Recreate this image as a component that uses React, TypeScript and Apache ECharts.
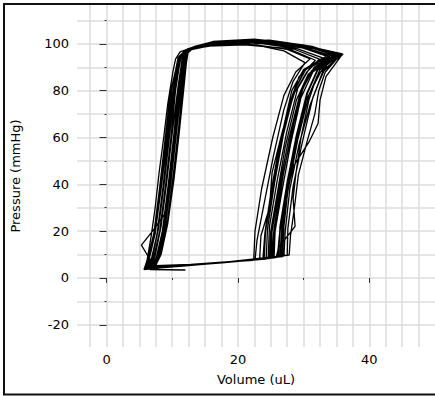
import React, { useEffect, useRef } from "react";
import * as echarts from "echarts";

// Pressure-volume loops: [volume (uL), pressure (mmHg)]
const loop1 = [[24.0,8.2],[24.2,20],[25.3,40],[26.6,60],[28.2,80],[30.0,89],[33.5,94.8],[29.5,98.6],[22.0,101.0],[16.0,100.3],[12.6,98.1],[11.6,95.2],[10.9,80],[10.2,60],[9.4,40],[8.5,20],[7.6,9],[6.9,4.4],[12.0,5.4],[18.0,6.6]];
const loop2 = [[25.1,8.5],[25.5,21],[26.4,38],[27.9,58],[29.4,78],[31.2,88.5],[35.2,95.2],[30.5,98.8],[23.0,101.8],[16.5,100.6],[12.9,98.4],[11.8,95.8],[11.2,82],[10.5,62],[9.7,42],[8.8,22],[7.9,10],[7.1,4.8],[12.5,5.6],[18.5,6.8]];
const loop3 = [[26.4,9.0],[26.6,19],[27.2,33],[28.6,55],[30.4,76],[32.6,88],[36.0,95.6],[31.2,98.4],[24.0,100.2],[17.0,99.6],[13.2,98.0],[12.0,96.0],[11.3,84],[10.7,66],[9.9,45],[9.0,25],[8.0,11],[7.2,5.0],[13.0,5.8],[19.0,7.0]];
const loop4 = [[23.3,7.8],[23.5,18],[24.8,30],[25.2,45],[26.8,63],[28.6,79],[30.5,88],[32.4,93.5],[28.5,97.8],[21.0,99.6],[15.5,99.0],[12.0,97.0],[11.0,94.0],[10.0,78],[9.2,58],[8.3,38],[7.4,19],[6.5,8],[6.0,4.0],[11.5,5.2],[17.5,6.5]];
const loop5 = [[25.8,8.7],[26.2,13],[28.7,22],[28.4,34],[28.8,44],[29.6,60],[30.8,76],[32.0,86],[34.3,94.0],[30.0,98.2],[23.5,101.2],[16.8,100.7],[12.6,98.0],[11.4,95.0],[10.4,81],[9.6,61],[8.8,41],[7.9,21],[7.0,9],[6.4,4.2],[12.2,5.5],[18.2,6.8]];
const loop6 = [[24.6,8.3],[24.8,22],[26.0,42],[27.4,62],[29.1,81],[31.0,90],[34.8,95.0],[30.2,99.4],[22.5,102.0],[16.2,101.0],[13.3,98.8],[12.3,96.0],[11.8,82],[11.1,63],[10.3,43],[9.3,23],[8.3,10],[7.4,4.9],[12.0,5.5],[18.0,6.8]];
const loop7 = [[27.0,9.3],[27.2,20],[27.9,38],[29.3,57],[31.0,74],[32.4,84],[33.5,91],[35.6,95.0],[31.5,98.0],[24.5,100.8],[17.5,100.8],[13.5,98.9],[11.2,96.6],[10.5,93.5],[10.1,88],[9.3,74],[8.7,60],[8.0,45],[7.4,30],[6.8,18],[6.2,8],[5.8,3.8],[11.5,5.1],[18.5,6.9]];
const loop8 = [[23.8,8.0],[24.1,19],[25.0,36],[26.2,55],[27.8,74],[29.3,86],[31.8,93.0],[28.0,97.5],[21.5,100.0],[15.8,99.5],[12.2,97.4],[11.0,94.5],[9.7,79],[8.9,59],[8.1,39],[7.2,19],[6.3,8.5],[5.7,3.6],[11.8,5.3],[17.8,6.6]];
const loop9 = [[25.5,8.6],[25.7,23],[26.9,44],[28.2,63],[29.9,81],[31.6,90],[35.0,95.3],[30.8,98.6],[23.2,101.5],[16.6,100.5],[13.0,98.3],[11.9,95.6],[11.2,82],[10.4,62],[9.6,42],[8.8,27],[7.0,20],[5.3,14],[6.6,8],[6.1,3.8],[11.0,4.9],[17.0,6.3]];
const loop10 = [[26.8,9.1],[27.0,22],[27.7,40],[29.0,60],[30.6,79],[32.2,89],[35.4,95.4],[31.0,98.7],[23.8,101.1],[17.2,100.8],[13.3,98.6],[12.1,95.9],[11.4,83],[10.6,64],[9.8,44],[8.9,24],[8.1,11],[7.3,5.1],[12.6,5.7],[18.8,7.0]];
const loop11 = [[22.6,7.6],[22.9,16],[24.0,32],[25.4,52],[27.0,72],[28.4,84],[30.2,92.0],[27.0,97.0],[21.0,100.5],[15.3,99.7],[12.0,97.3],[11.0,94.5],[10.2,79],[9.4,59],[8.6,39],[7.7,19],[6.9,8.2],[6.3,4.1],[11.6,5.2],[17.6,6.5]];
const loop12 = [[25.0,8.4],[25.2,20],[26.3,39],[27.7,59],[29.3,77],[30.9,87],[33.0,93.2],[34.5,94.8],[30.0,98.5],[22.8,101.3],[16.4,100.5],[12.8,98.3],[11.8,95.4],[11.1,80],[10.3,60],[9.5,40],[8.6,20],[7.7,9],[7.0,4.6],[12.1,5.5],[18.1,6.8]];
const loop13 = [[26.0,8.8],[26.3,18],[27.3,35],[28.5,48],[30.8,58],[32.2,66],[32.5,76],[33.4,86],[35.8,95.2],[31.5,98.2],[24.2,100.9],[17.0,100.9],[13.1,98.6],[12.0,95.8],[11.3,83],[10.6,64],[9.8,44],[8.9,24],[8.0,10],[7.2,4.9],[12.7,5.7],[18.9,7.0]];
const loop14 = [[24.3,8.1],[24.5,21],[25.6,41],[26.9,61],[28.6,80],[30.4,89.5],[33.8,94.6],[29.6,98.5],[22.2,101.0],[16.0,100.2],[12.3,97.8],[11.2,94.8],[10.2,80],[9.5,60],[8.7,40],[7.8,20],[6.9,9],[6.3,4.3],[12.0,5.4],[18.0,6.7]];
const loop15 = [[27.5,9.6],[27.6,21],[28.4,39],[29.8,58],[31.4,77],[32.9,88],[35.9,95.7],[31.8,98.3],[24.6,100.7],[17.6,101.0],[13.6,99.0],[12.3,96.3],[11.6,85],[10.8,66],[10.0,46],[9.1,26],[8.2,12],[7.4,5.2],[12.8,5.8],[19.2,7.1]];
const loop16 = [[25.3,8.6],[25.6,19],[26.7,37],[28.0,57],[29.6,77],[31.4,88],[34.9,95.1],[30.6,98.7],[23.4,101.4],[16.7,100.6],[12.8,98.2],[11.6,95.3],[10.9,82],[10.0,62],[9.2,42],[8.3,22],[7.4,9.5],[6.8,4.5],[12.3,5.6],[18.4,6.9]];
const loop17 = [[23.9,8.1],[24.2,20],[25.4,40],[26.7,60],[28.4,79],[30.1,88.5],[32.9,94.0],[29.0,98.0],[21.8,100.9],[15.9,100.2],[12.8,98.2],[11.9,95.3],[11.3,80],[10.6,61],[9.8,41],[8.9,21],[8.0,9],[7.3,4.7],[11.9,5.3],[17.9,6.6]];
const loop18 = [[26.2,9.0],[26.4,22],[27.5,41],[28.9,61],[30.5,79],[32.1,89],[35.3,95.3],[31.0,98.6],[23.9,101.2],[17.1,100.8],[13.2,98.6],[12.1,95.9],[11.4,83],[10.7,64],[9.9,44],[9.0,24],[8.1,11],[7.3,5.0],[12.4,5.6],[18.6,6.9]];
const loop19 = [[22.4,7.5],[22.6,20],[23.6,38],[25.3,60],[27.0,78],[28.8,88],[31.0,93.6],[27.5,97.6],[20.5,100.4],[15.0,99.4],[11.9,97.0],[10.9,94.2],[9.9,80],[9.1,60],[8.3,40],[7.4,20],[6.5,8.8],[5.9,4.0],[11.2,5.0],[17.2,6.4]];
const loop20 = [[27.8,9.8],[28.0,18],[28.6,30],[29.2,44],[30.5,58],[31.7,70],[32.3,80],[33.3,88],[35.5,95.0],[31.3,98.9],[24.8,101.6],[17.8,101.2],[13.1,98.6],[11.9,95.7],[11.1,81],[10.4,61],[9.6,41],[8.7,21],[7.8,9.5],[7.1,4.7],[12.4,5.5],[18.7,7.0]];
const loop21 = [[24.8,8.4],[25.0,20],[26.1,38],[27.2,56],[28.9,76],[30.7,87],[34.0,94.5],[29.8,98.3],[22.6,100.7],[16.3,100.0],[12.5,97.7],[11.3,94.8],[10.5,80],[9.8,60],[9.0,40],[8.1,20],[7.2,9],[6.6,4.3],[12.0,5.4],[18.0,6.7]];
const loop22 = [[26.6,9.1],[26.8,20],[27.6,37],[29.1,59],[30.8,78],[32.5,89],[35.7,95.5],[31.4,98.5],[24.3,101.3],[17.4,100.9],[13.5,99.0],[12.4,96.2],[11.7,84],[11.0,65],[10.2,45],[9.3,25],[8.3,11],[7.5,5.2],[6.6,3.6],[12.0,3.4]];

const loops = [loop1, loop2, loop3, loop4, loop5, loop6, loop7, loop8, loop9, loop10, loop11, loop12, loop13, loop14, loop15, loop16, loop17, loop18, loop19, loop20, loop21, loop22];

const xLabelValues = [0, 20, 40];
const xMinorTickValues = [10, 30];
const yLabelValues = [-20, 0, 20, 40, 60, 80, 100];
const yMinorTickValues = [-10, 10, 30, 50, 70, 90, 110];

const X_MIN = -4.5;
const X_MAX = 50;
const Y_MIN = -29.5;
const Y_MAX = 116.6;

const FONT = "DejaVu Sans";
const TEXT = "#000";
const TICK = "#333";
const GRID = "#dcdcdc";

export default function App() {
  const ref = useRef<HTMLDivElement>(null);
  useEffect(() => {
    if (!ref.current) return;
    const chart = echarts.init(ref.current, null, { renderer: "svg" });
    const data = loops.flat();
    const hidden = { show: false };
    chart.setOption({
      animation: false,
      backgroundColor: "#fff",
      grid: { left: 77, top: 5, right: -8, bottom: 49, containLabel: false },
      xAxis: [
        {
          type: "value", min: X_MIN, max: X_MAX, position: "bottom",
          axisLine: hidden, splitLine: hidden,
          axisTick: { show: true, customValues: xLabelValues, length: 5, lineStyle: { color: TICK, width: 1 } },
          axisLabel: { show: true, customValues: xLabelValues, margin: 6, fontSize: 13, fontFamily: FONT, color: TEXT },
          name: "Volume (uL)", nameLocation: "middle", nameGap: 26,
          nameTextStyle: { fontSize: 13, fontFamily: FONT, color: TEXT },
        },
        {
          type: "value", min: X_MIN, max: X_MAX, position: "bottom",
          axisLine: hidden, splitLine: hidden, axisLabel: hidden,
          axisTick: { show: true, customValues: xMinorTickValues, length: 2, lineStyle: { color: TICK, width: 1 } },
        },
        {
          type: "value", min: X_MIN, max: X_MAX, position: "top", minInterval: 2.5, maxInterval: 2.5,
          axisLine: hidden, axisTick: hidden, axisLabel: hidden,
          splitLine: { show: true, showMinLine: false, showMaxLine: false, lineStyle: { color: GRID, width: 1.5 } },
        },
      ],
      yAxis: [
        {
          type: "value", min: Y_MIN, max: Y_MAX, position: "right", minInterval: 10, maxInterval: 10,
          axisLine: hidden, axisTick: hidden, axisLabel: hidden,
          splitLine: { show: true, showMinLine: false, showMaxLine: false, lineStyle: { color: GRID, width: 1.5 } },
        },
        {
          type: "value", min: Y_MIN, max: Y_MAX, position: "left",
          axisLine: hidden, splitLine: hidden,
          axisTick: { show: true, customValues: yLabelValues, length: 7, lineStyle: { color: TICK, width: 1 } },
          axisLabel: { show: true, customValues: yLabelValues, margin: 8, fontSize: 13, fontFamily: FONT, color: TEXT },
          name: "Pressure (mmHg)", nameLocation: "middle", nameGap: 55, nameRotate: 90,
          nameTextStyle: { fontSize: 13, fontFamily: FONT, color: TEXT },
        },
        {
          type: "value", min: Y_MIN, max: Y_MAX, position: "left",
          axisLine: hidden, splitLine: hidden, axisLabel: hidden,
          axisTick: { show: true, customValues: yMinorTickValues, length: 2, lineStyle: { color: TICK, width: 1 } },
        },
      ],
      series: [
        {
          type: "line",
          xAxisIndex: 0,
          yAxisIndex: 0,
          data,
          showSymbol: false,
          symbol: "none",
          smooth: false,
          clip: true,
          silent: true,
          lineStyle: { color: "#000", width: 1.3 },
        },
      ],
      graphic: [
        {
          type: "rect",
          z: 100,
          silent: true,
          shape: { x: 4, y: 4, width: 460, height: 390.5 },
          style: { fill: "none", stroke: "#111", lineWidth: 2 },
        },
      ],
    });
    return () => chart.dispose();
  }, []);
  return (
    <div
      ref={ref}
      style={{ position: "absolute", left: 0, top: 0, width: 435, height: 396 }}
    />
  );
}
